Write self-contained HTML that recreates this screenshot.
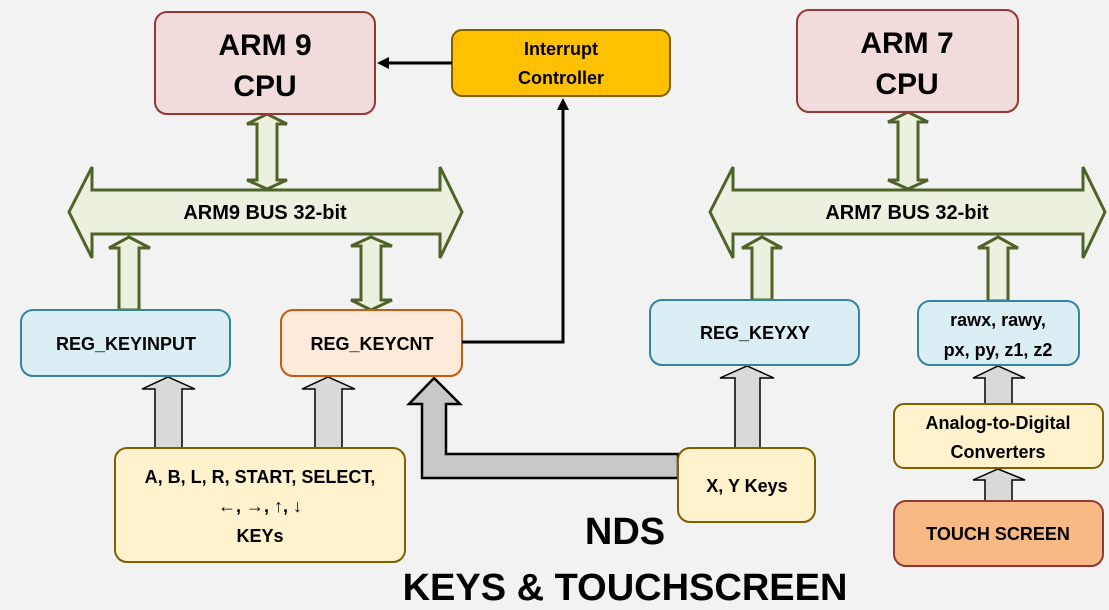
<!DOCTYPE html>
<html><head><meta charset="utf-8"><style>
html,body{margin:0;padding:0;background:#f2f2f2}
svg{display:block}
text{font-family:"Liberation Sans",sans-serif;font-weight:bold;fill:#000;text-anchor:middle}
</style></head><body>
<svg width="1109" height="610" viewBox="0 0 1109 610" xmlns="http://www.w3.org/2000/svg">
<rect width="1109" height="610" fill="#f2f2f2"/>
<defs>
<marker id="ah" markerWidth="12" markerHeight="12" refX="2" refY="6" orient="auto" markerUnits="userSpaceOnUse"><path d="M0,0 L12,6 L0,12 z" fill="#000"/></marker>
</defs>
<g stroke="#4f6228" stroke-width="3" fill="#ebf1de">
<path d="M69,212 L92,167 L92,190 L440,190 L440,167 L462,212 L440,258 L440,234 L92,234 L92,258 Z"/>
<path d="M710,212 L733,167 L733,190 L1083,190 L1083,167 L1105,212 L1083,258 L1083,234 L733,234 L733,258 Z"/>
<path d="M257,124 L247,124 L267,114 L287,124 L277,124 L277,180 L287,180 L267,189 L247,180 L257,180 Z"/>
<path d="M898,122 L888,122 L908,112 L928,122 L918,122 L918,180 L928,180 L908,189 L888,180 L898,180 Z"/>
<path d="M371,237 L392,246 L381,246 L381,300 L392,300 L371,310 L351,300 L361,300 L361,246 L351,246 Z"/>
<path d="M119,310 L119,248 L109,248 L129,237 L150,248 L139,248 L139,310 Z"/>
<path d="M752,300 L752,248 L742,248 L762,237 L782,248 L772,248 L772,300 Z"/>
<path d="M988,301 L988,248 L978,248 L998,237 L1018,248 L1008,248 L1008,301 Z"/>
</g>
<g stroke="#000" stroke-width="1.5" fill="#d9d9d9">
<path d="M155,448 L155,389 L142,389 L168,377 L195,389 L182,389 L182,448 Z"/>
<path d="M315,448 L315,389 L302,389 L328,377 L355,389 L342,389 L342,448 Z"/>
<path d="M735,448 L735,378 L720,378 L747,366 L774,378 L760,378 L760,448 Z"/>
<path d="M985,404 L985,378 L973,378 L998,366 L1025,378 L1012,378 L1012,404 Z"/>
<path d="M985,501 L985,480 L973,480 L998,469 L1025,480 L1012,480 L1012,501 Z"/>
</g>
<path d="M678,454 L446,454 L446,404 L460,404 L434,378 L409,404 L422,404 L422,478 L678,478 Z" fill="#c8c8c8" stroke="#000" stroke-width="2.5"/>
<rect x="155" y="12" width="220" height="102" rx="12" fill="#f2dcdb" stroke="#953735" stroke-width="2"/>
<text x="265" y="55" font-size="30">ARM 9</text><text x="265" y="96" font-size="30">CPU</text>
<rect x="797" y="10" width="221" height="102" rx="12" fill="#f2dcdb" stroke="#953735" stroke-width="2"/>
<text x="907" y="53" font-size="30">ARM 7</text><text x="907" y="94" font-size="30">CPU</text>
<rect x="452" y="30" width="218" height="66" rx="10" fill="#ffc000" stroke="#7f6000" stroke-width="2"/>
<text x="561" y="55" font-size="18">Interrupt</text><text x="561" y="84" font-size="18">Controller</text>
<text x="265" y="219" font-size="20">ARM9 BUS 32-bit</text>
<text x="907" y="219" font-size="20">ARM7 BUS 32-bit</text>
<rect x="21" y="310" width="209" height="66" rx="12" fill="#dbeef3" stroke="#31859c" stroke-width="2"/>
<text x="126" y="350" font-size="18">REG_KEYINPUT</text>
<rect x="281" y="310" width="181" height="66" rx="12" fill="#fdeada" stroke="#c55a11" stroke-width="2"/>
<text x="372" y="350" font-size="18">REG_KEYCNT</text>
<rect x="650" y="300" width="209" height="65" rx="12" fill="#dbeef3" stroke="#31859c" stroke-width="2"/>
<text x="755" y="339" font-size="18">REG_KEYXY</text>
<rect x="918" y="301" width="161" height="64" rx="12" fill="#dbeef3" stroke="#31859c" stroke-width="2"/>
<text x="998" y="326" font-size="18">rawx, rawy,</text><text x="998" y="356" font-size="18">px, py, z1, z2</text>
<rect x="894" y="404" width="209" height="64" rx="10" fill="#fff2cc" stroke="#7f6000" stroke-width="2"/>
<text x="998" y="429" font-size="18">Analog-to-Digital</text><text x="998" y="458" font-size="18">Converters</text>
<rect x="894" y="501" width="209" height="65" rx="12" fill="#f8b984" stroke="#953735" stroke-width="2"/>
<text x="998" y="540" font-size="18">TOUCH SCREEN</text>
<rect x="115" y="448" width="290" height="114" rx="12" fill="#fff2cc" stroke="#7f6000" stroke-width="2"/>
<text x="260" y="483" font-size="18">A, B, L, R, START, SELECT,</text>
<text x="260" y="512" font-size="18">←, →, ↑, ↓</text>
<text x="260" y="542" font-size="18">KEYs</text>
<rect x="678" y="448" width="137" height="74" rx="12" fill="#fff2cc" stroke="#7f6000" stroke-width="2"/>
<text x="747" y="492" font-size="18">X, Y Keys</text>
<line x1="452" y1="63" x2="387" y2="63" stroke="#000" stroke-width="3" marker-end="url(#ah)"/>
<polyline points="462,342 563,342 563,108" fill="none" stroke="#000" stroke-width="3" marker-end="url(#ah)"/>
<text x="625" y="544" font-size="38">NDS</text>
<text x="625" y="600" font-size="38">KEYS &amp; TOUCHSCREEN</text>
</svg>
</body></html>
